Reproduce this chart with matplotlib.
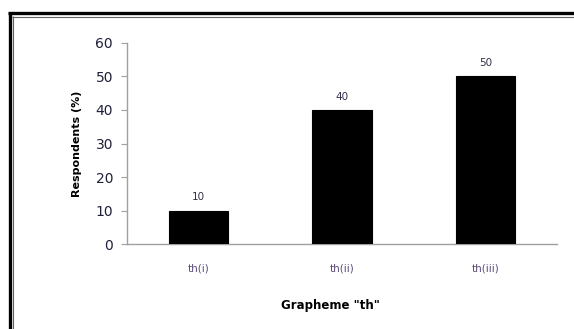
import matplotlib
matplotlib.use("Agg")
import matplotlib.pyplot as plt
from matplotlib.lines import Line2D

categories = ["th(i)", "th(ii)", "th(iii)"]
respondents = [10, 40, 50]
y_ticks = [0, 10, 20, 30, 40, 50, 60]

W, H = 574, 329
fig = plt.figure(figsize=(W / 100, H / 100), dpi=100)
fig.patch.set_facecolor("white")

ax = fig.add_axes([127 / W, 1 - 244.3 / H, 430 / W, (244.3 - 42.7) / H])
x = range(len(categories))
ax.bar(x, respondents, width=0.415, color="black", edgecolor="black", linewidth=0.8, zorder=3)

for xi, v in zip(x, respondents):
    ax.annotate(f"{v}", (xi, v), xytext=(0, 6), textcoords="offset points",
                ha="center", va="bottom", fontsize=7.5, color="#30304a")

ax.set_xlim(-0.5, 2.5)
ax.set_ylim(0, 60)
ax.set_yticks(y_ticks)
ax.set_yticklabels([str(t) for t in y_ticks], fontsize=10, color="#20203a")
ax.set_xticks(list(x))
ax.set_xticklabels(categories, fontsize=7.5, color="#5a4a7a")
ax.tick_params(axis="x", length=0, pad=14)
ax.tick_params(axis="y", length=4, width=0.8, color="#a0a0a0", pad=6)

for side in ("top", "right"):
    ax.spines[side].set_visible(False)
for side in ("left", "bottom"):
    ax.spines[side].set_color("#a0a0a0")
    ax.spines[side].set_linewidth(1.0)

ax.set_ylabel("Respondents (%)", fontsize=8, fontweight="bold", labelpad=10)
ax.set_xlabel('Grapheme "th"', fontsize=8.5, fontweight="bold")
ax.xaxis.set_label_coords(0.474, -0.271)

# Page frame: thick black rule with a thin grey inner rule
def fig_line(x0, y0, x1, y1, lw, color):
    fig.add_artist(Line2D([x0 / W, x1 / W], [1 - y0 / H, 1 - y1 / H],
                          transform=fig.transFigure, lw=lw, color=color,
                          solid_capstyle="butt"))

fig_line(8, 13.2, W, 13.2, 2.4, "black")
fig_line(12, 16.5, W, 16.5, 0.8, "#606060")
fig_line(9.5, 12, 9.5, H, 2.4, "black")
fig_line(13, 15.5, 13, H, 0.8, "#606060")

fig.savefig("out.png", dpi=100)
